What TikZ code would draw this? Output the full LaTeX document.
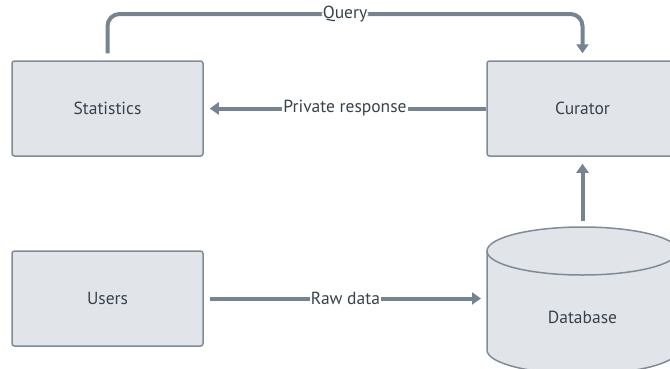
\documentclass[tikz,border=0pt]{standalone}
\usepackage{fontspec}
\setmainfont{PT Sans}
\usetikzlibrary{arrows.meta}
\definecolor{linec}{HTML}{768491}
\definecolor{boxfill}{HTML}{E1E5EA}
\definecolor{boxline}{HTML}{7F8B97}
\definecolor{txt}{HTML}{38424D}
\tikzset{
  box/.style={draw=boxline, fill=boxfill, line width=1.5pt, rounded corners=2.5pt,
    minimum width=191pt, minimum height=95pt, text=txt, font=\fontsize{17.5}{20}\selectfont},
  conn/.style={draw=linec, line width=4pt, -{Triangle[width=12pt,length=9pt]}},
  lbl/.style={fill=white, inner sep=1pt, text=txt, font=\fontsize{17.5}{20}\selectfont},
}
\begin{document}
\begin{tikzpicture}[x=1pt,y=-1pt]
\useasboundingbox (0,0) rectangle (670,368);
\node[box] (stat) at (107.5,108.5) {Statistics};
\node[box] (cur) at (582.5,108.5) {Curator};
\node[box] (users) at (107.5,298.5) {Users};
% database cylinder
\path[fill=boxfill, draw=boxline, line width=1.5pt] (487,251) -- (487,350)
  arc[start angle=180, end angle=0, x radius=95.5, y radius=24] -- (678,251);
\path[fill=boxfill, draw=boxline, line width=1.5pt] (582.5,251) ellipse [x radius=95.5, y radius=24];
\node[text=txt, font=\fontsize{17.5}{20}\selectfont] (db) at (582.5,317) {Database};
\coordinate (dbtop) at (582.5,221);
\coordinate (dbwest) at (487,298.5);
\coordinate (q) at (0,14);
% connectors
\draw[conn, rounded corners=12pt, shorten <=7pt, shorten >=7pt]
  (stat.north) -- (stat.north |- q) -- node[lbl]{Query} (cur.north |- q) -- (cur.north);
\draw[conn, shorten >=6pt] (cur.west) -- node[lbl]{Private response} (stat.east);
\draw[conn, shorten <=6pt, shorten >=6pt] (users.east) -- node[lbl]{Raw data} (dbwest);
\draw[conn, shorten >=7pt] (dbtop) -- (cur.south);
\end{tikzpicture}
\end{document}
